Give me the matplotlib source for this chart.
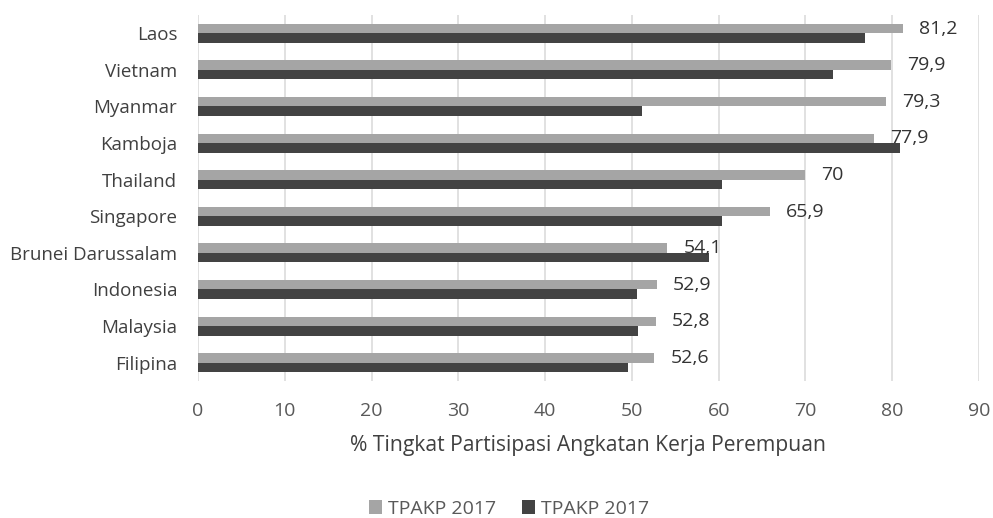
import matplotlib
matplotlib.use("Agg")
import matplotlib.pyplot as plt
import numpy as np

categories = ["Laos", "Vietnam", "Myanmar", "Kamboja", "Thailand", "Singapore",
              "Brunei Darussalam", "Indonesia", "Malaysia", "Filipina"]
series_light = [81.2, 79.9, 79.3, 77.9, 70.0, 65.9, 54.1, 52.9, 52.8, 52.6]
series_dark = [76.9, 73.2, 51.2, 80.9, 60.4, 60.4, 58.9, 50.6, 50.7, 49.6]
series_names = ["TPAKP 2017", "TPAKP 2017"]
value_labels = ["81,2", "79,9", "79,3", "77,9", "70", "65,9", "54,1", "52,9", "52,8", "52,6"]
xticks = list(range(0, 91, 10))
xlabel = "% Tingkat Partisipasi Angkatan Kerja Perempuan"

plt.rcParams['font.family'] = ['Open Sans', 'DejaVu Sans']

fig = plt.figure(figsize=(9.93, 5.18), dpi=100)
ax = fig.add_axes([198/993, 1-381/518, (979-198)/993, (381-15)/518])

y = np.arange(len(categories))
h = 0.26
light_c = "#a5a5a5"
dark_c = "#434343"
ax.barh(y - h/2, series_light, height=h, color=light_c, label=series_names[0], zorder=3)
ax.barh(y + h/2, series_dark, height=h, color=dark_c, label=series_names[1], zorder=3)

for yi, v, t in zip(y, series_light, value_labels):
    ax.annotate(t, (v, yi - h/2), xytext=(11.5, 0), textcoords="offset points",
                va="center", ha="left", fontsize=14, color="#333333", zorder=4)

ax.set_ylim(len(categories) - 0.5, -0.5)
ax.set_xlim(0, 90)
ax.set_xticks(xticks)
ax.set_xticklabels([str(t) for t in xticks])
ax.set_yticks(y)
ax.set_yticklabels(categories)
ax.tick_params(axis="x", length=0, pad=15, labelsize=14, labelcolor="#595959")
ax.tick_params(axis="y", length=0, pad=15, labelsize=13.5, labelcolor="#404040")
ax.grid(axis="x", color="#d9d9d9", linewidth=1.1, zorder=0)
ax.set_axisbelow(True)
for s in ax.spines.values():
    s.set_visible(False)
ax.set_xlabel(xlabel, fontsize=15.2, color="#404040", labelpad=11)

handles, labels = ax.get_legend_handles_labels()
fig.legend(handles, labels, loc="center", bbox_to_anchor=(509/993, 1-509/518), ncol=2,
           frameon=False, fontsize=14, labelcolor="#595959", handlelength=0.7,
           handleheight=0.7, handletextpad=0.3, columnspacing=1.3)

fig.savefig("out.png", dpi=100)
